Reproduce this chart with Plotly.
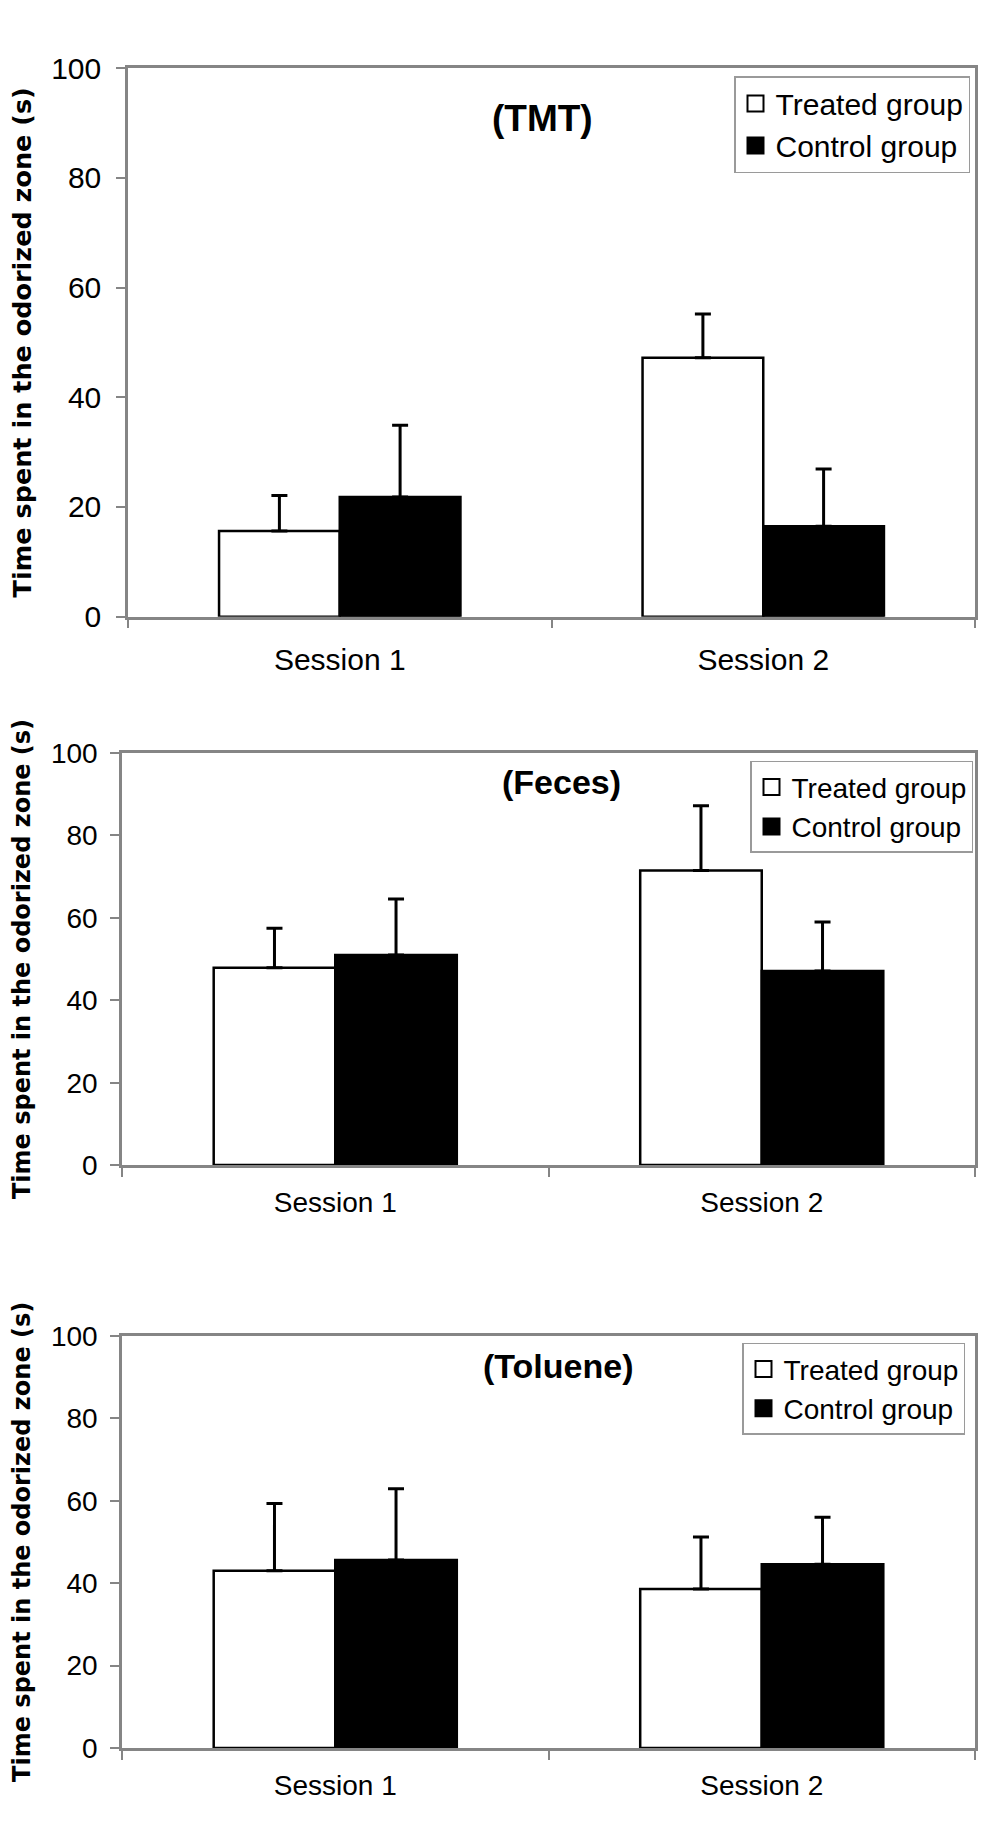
import plotly.graph_objects as go
from plotly.subplots import make_subplots

# the page body keeps its default 8px margin, so the figure is drawn 16px smaller
PAGE_W, PAGE_H, PAD = 993, 1822, 8
W, H = PAGE_W - 2 * PAD, PAGE_H - 2 * PAD

sessions = ["Session 1", "Session 2"]
panel_labels = ["(TMT)", "(Feces)", "(Toluene)"]
groups = ["Treated group", "Control group"]

tmt_treated = [15.6, 47.2]
tmt_treated_err = [6.5, 8.0]
tmt_control = [21.8, 16.5]
tmt_control_err = [13.1, 10.4]

feces_treated = [47.9, 71.5]
feces_treated_err = [9.6, 15.7]
feces_control = [51.0, 47.1]
feces_control_err = [13.6, 11.9]

toluene_treated = [43.0, 38.6]
toluene_treated_err = [16.3, 12.6]
toluene_control = [45.6, 44.6]
toluene_control_err = [17.3, 11.4]

y_title = "Time spent in the odorized zone (s)"

panels = [
    (tmt_treated, tmt_treated_err, tmt_control, tmt_control_err),
    (feces_treated, feces_treated_err, feces_control, feces_control_err),
    (toluene_treated, toluene_treated_err, toluene_control, toluene_control_err),
]


def px_x(x):
    return (x - PAD) / W


def px_y(y):
    return 1 - (y - PAD) / H


# page-pixel geometry of each panel
geo = [
    dict(l=128, r=975, t=52, b=611, fs=30, leg=(970, 60), lfs=30, tx=542, ty=90.9, tfs=37, ys=25.5,
         xstand=15, ystand=9),
    dict(l=122, r=975, t=750, b=1170, fs=28, leg=(973, 758), lfs=28, tx=561, ty=92.9, tfs=34, ys=24,
         xstand=11, ystand=7),
    dict(l=122, r=975, t=1344, b=1764, fs=28, leg=(965, 1351), lfs=28, tx=558, ty=92.6, tfs=34, ys=24,
         xstand=11, ystand=7),
]

fills = ["white", "black"]

fig = make_subplots(rows=3, cols=1)

grey = "#858585"
base_font = "Liberation Sans, Arial, sans-serif"

for i, (tr, tr_err, ct, ct_err) in enumerate(panels):
    row = i + 1
    leg = "legend" if i == 0 else f"legend{i + 1}"
    for name, vals, errs, fill in zip(groups, [tr, ct], [tr_err, ct_err], fills):
        fig.add_trace(go.Bar(x=sessions, y=vals, name=name, showlegend=False,
                             marker=dict(color=fill, line=dict(color="black", width=2.5)),
                             error_y=dict(type="data", array=errs, arrayminus=[0] * len(vals),
                                          symmetric=False, color="black", thickness=3, width=8)),
                      row=row, col=1)
    # legend-only entries, so the swatches can be bigger than the bar icon
    for name, fill in zip(groups, fills):
        fig.add_trace(go.Scatter(x=[None], y=[None], mode="markers", name=name, legend=leg,
                                 marker=dict(symbol="square", size=16, color=fill,
                                             line=dict(color="black", width=2))),
                      row=row, col=1)

layout = dict(width=W, height=H, margin=dict(l=0, r=0, t=0, b=0),
              paper_bgcolor="white", plot_bgcolor="white",
              barmode="group", bargap=0.43, bargroupgap=0,
              font=dict(family=base_font, color="black"))

annotations = []
for i, g in enumerate(geo):
    sfx = "" if i == 0 else str(i + 1)
    layout["xaxis" + sfx] = dict(domain=[px_x(g["l"]), px_x(g["r"])], showline=True, mirror=True,
                                 linecolor=grey, linewidth=2.5, ticks="outside", tickson="boundaries",
                                 ticklen=9, tickcolor=grey, tickwidth=1.5, showgrid=False,
                                 categoryorder="array", categoryarray=sessions,
                                 tickfont=dict(size=g["fs"], family=base_font, color="black"),
                                 ticklabelstandoff=g["xstand"])
    layout["yaxis" + sfx] = dict(domain=[px_y(g["b"]), px_y(g["t"])], range=[0, 100],
                                 tickvals=[0, 20, 40, 60, 80, 100], showline=True, mirror=True,
                                 linecolor=grey, linewidth=2.5, ticks="outside", ticklen=9,
                                 tickcolor=grey, tickwidth=1.5, showgrid=False, zeroline=False,
                                 tickfont=dict(size=g["fs"], family=base_font, color="black"),
                                 ticklabelstandoff=g["ystand"])
    leg_key = "legend" if i == 0 else f"legend{i + 1}"
    layout[leg_key] = dict(x=px_x(g["leg"][0]), y=px_y(g["leg"][1]), xanchor="right", yanchor="top",
                           bgcolor="white", bordercolor="#9a9a9a", borderwidth=1.5,
                           font=dict(size=g["lfs"], family=base_font, color="black"),
                           itemwidth=30, itemsizing="trace", tracegroupgap=0)
    # panel label inside the plot
    annotations.append(dict(text="<b>" + panel_labels[i] + "</b>", x=px_x(g["tx"]), xref="paper",
                            y=g["ty"], yref="y" + sfx, showarrow=False,
                            font=dict(size=g["tfs"], family=base_font, color="black")))
    # rotated y title
    annotations.append(dict(text="<b>" + y_title + "</b>", x=px_x(22), xref="paper",
                            y=px_y((g["t"] + g["b"]) / 2), yref="paper", textangle=-90,
                            showarrow=False, xanchor="center", yanchor="middle",
                            font=dict(size=g["ys"], family="DejaVu Sans, sans-serif", color="black")))

layout["annotations"] = annotations
fig.update_layout(**layout)

fig.write_html("out.html")
